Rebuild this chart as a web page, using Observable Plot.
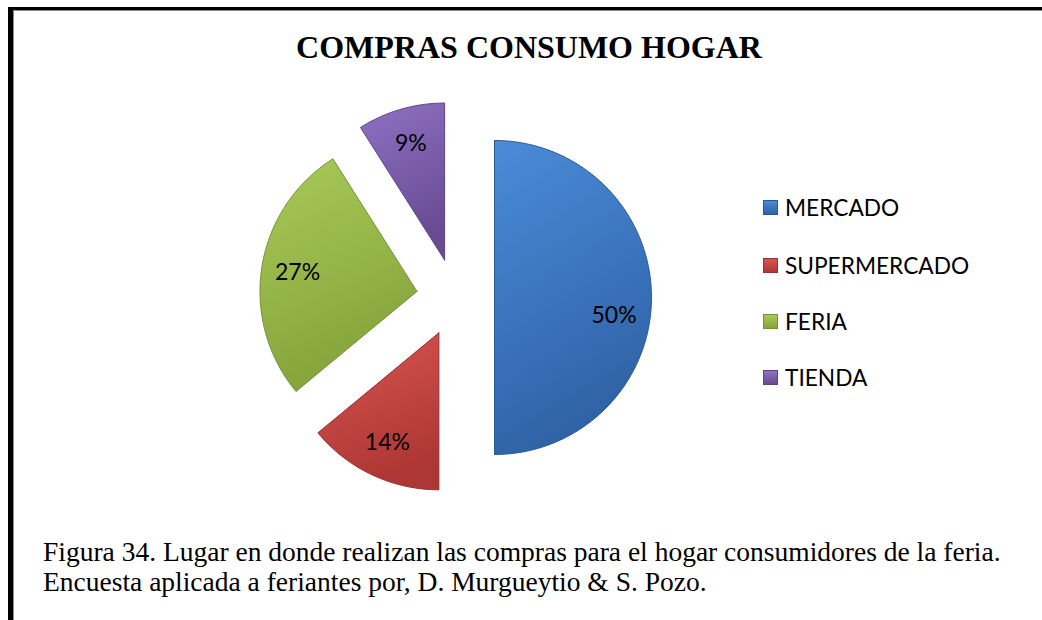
<!DOCTYPE html>
<html><head><meta charset="utf-8">
<script src="https://cdn.jsdelivr.net/npm/d3@7"></script>
<script src="https://cdn.jsdelivr.net/npm/@observablehq/plot@0.6"></script>
<style>
body{margin:0;background:#fff;}
#wrap{position:relative;width:1042px;height:620px;overflow:hidden;background:#fff;}
#frame{position:absolute;left:8px;top:7px;width:1100px;height:700px;border-top:3px solid #000;border-left:5px solid #000;}
#frame2{position:absolute;left:13px;top:10px;width:1100px;height:700px;border-top:1px solid #8a8a8a;border-left:1px solid #8a8a8a;}
#title{position:absolute;left:0;width:1058px;top:29px;text-align:center;font:bold 32px "Liberation Serif",serif;color:#000;line-height:normal;white-space:nowrap;}
#caption{position:absolute;left:43px;top:537px;font:27.5px "Liberation Serif",serif;line-height:30px;color:#000;white-space:nowrap;}
#legend{position:absolute;left:763px;top:0;}
.item{position:absolute;left:0;height:20px;display:flex;align-items:center;white-space:nowrap;font:22.7px Lato,sans-serif;color:#000;}
.sw{width:15px;height:15px;margin-right:7px;box-sizing:border-box;}
#chart{position:absolute;left:0;top:0;}
</style></head>
<body><div id="wrap">
<div id="frame"></div><div id="frame2"></div>
<div id="chart"></div>
<div id="title"></div>
<div id="legend"></div>
<div id="caption"></div>
</div>
<script>
// ---- data ----
const categories = ["MERCADO", "SUPERMERCADO", "FERIA", "TIENDA"];
const values = [50, 14, 27, 9];
const labels = ["50%", "14%", "27%", "9%"];
const colors = ["#3e7bcb", "#c8423f", "#97b94b", "#7c5ca9"];
const lightShades = ["#4b8bd9", "#da5451", "#a9ca58", "#8f71c3"];
const darkShades = ["#2f62a6", "#ad3734", "#84a43b", "#684b93"];
const edgeShades = ["#2b5894", "#993130", "#74913a", "#5d4483"];
const titleText = "COMPRAS CONSUMO HOGAR";
const captionLines = [
  "Figura 34. Lugar en donde realizan las compras para el hogar consumidores de la feria.",
  "Encuesta aplicada a feriantes por, D. Murgueytio & S. Pozo."
];

// ---- layout ----
const W = 1042, H = 620, CX = 455, CY = 297, R = 157;
const EXPLODE = 39 / R, LABEL_R = 0.77;
const legendY = [207, 265, 321, 377];

document.getElementById("title").textContent = titleText;
document.getElementById("caption").innerHTML = captionLines.map(s => s.replace(/&/g, "&amp;")).join("<br>");

const legend = document.getElementById("legend");
categories.forEach((c, i) => {
  const it = document.createElement("div");
  it.className = "item";
  it.style.top = (legendY[i] - 10) + "px";
  const sw = document.createElement("div");
  sw.className = "sw";
  sw.style.background = `linear-gradient(${lightShades[i]}, ${darkShades[i]})`;
  sw.style.border = `1px solid ${edgeShades[i]}`;
  it.appendChild(sw);
  const t = document.createElement("span");
  t.textContent = c;
  it.appendChild(t);
  legend.appendChild(it);
});

// ---- pie geometry (computed from values) ----
const arcs = d3.pie().sort(null).value(d => d)(values);
const polys = [], labs = [];
arcs.forEach((a, i) => {
  const cat = categories[i];
  const mid = (a.startAngle + a.endAngle) / 2;
  const ox = EXPLODE * Math.sin(mid), oy = EXPLODE * Math.cos(mid);
  polys.push({cat, x: ox, y: oy});
  const n = Math.max(2, Math.ceil((a.endAngle - a.startAngle) / (2 * Math.PI) * 360));
  for (let k = 0; k <= n; k++) {
    const t = a.startAngle + (a.endAngle - a.startAngle) * k / n;
    polys.push({cat, x: ox + Math.sin(t), y: oy + Math.cos(t)});
  }
  polys.push({cat, x: ox, y: oy});
  // large slices: label sits slightly below the bisector, as in the original
  const la = a.endAngle - a.startAngle > Math.PI * 0.9 ? mid + 0.15 : mid;
  labs.push({label: labels[i], x: ox + LABEL_R * Math.sin(la), y: oy + LABEL_R * Math.cos(la)});
});

const chart = Plot.plot({
  width: W, height: H, margin: 0,
  style: {background: "transparent"},
  x: {domain: [-CX / R, (W - CX) / R], axis: null},
  y: {domain: [-(H - CY) / R, CY / R], axis: null},
  color: {domain: categories, range: colors},
  marks: [
    Plot.line(polys, {x: "x", y: "y", z: "cat", fill: "cat", stroke: "cat", strokeWidth: 1, curve: "linear"}),
    Plot.text(labs, {x: "x", y: "y", text: "label", fontSize: 23, fontFamily: "Lato", fill: "#000"})
  ]
});

// gradient shading (bevel look)
const svg = d3.select(chart);
const defs = svg.insert("defs", ":first-child");
categories.forEach((c, i) => {
  const g = defs.append("linearGradient").attr("id", "g" + i).attr("x1", 0).attr("y1", 0).attr("x2", 0.3).attr("y2", 1);
  g.append("stop").attr("offset", "0%").attr("stop-color", lightShades[i]);
  g.append("stop").attr("offset", "100%").attr("stop-color", darkShades[i]);
});
svg.selectAll("path").each(function () {
  const f = (this.getAttribute("fill") || "").toLowerCase();
  const i = colors.indexOf(f);
  if (i >= 0) {
    this.setAttribute("fill", `url(#g${i})`);
    this.setAttribute("stroke", edgeShades[i]);
  }
});
document.getElementById("chart").appendChild(chart);
</script>
</body></html>
